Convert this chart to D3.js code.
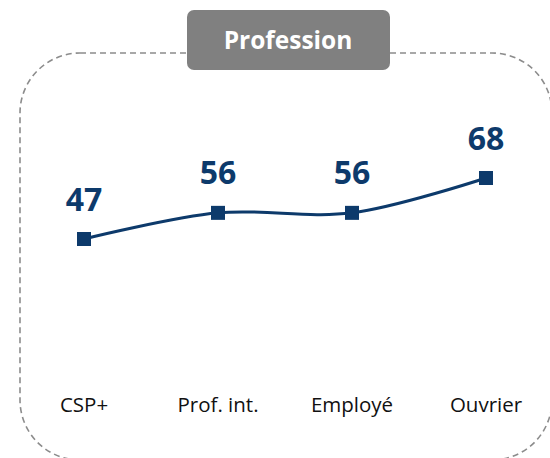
<!DOCTYPE html>
<html><head><meta charset="utf-8">
<script src="https://cdn.jsdelivr.net/npm/d3@7"></script>
<style>html,body{margin:0;padding:0;background:#fff;}</style>
</head><body>
<script>
const categories = ["CSP+", "Prof. int.", "Employé", "Ouvrier"];
const values = [47, 56, 56, 68];
const title = "Profession";

const W = 550, H = 458;
const navy = "#0d3a6b";
const svg = d3.select("body").append("svg").attr("width", W).attr("height", H);

// dashed rounded frame
svg.append("rect").attr("x", 20).attr("y", 53).attr("width", 532).attr("height", 407)
  .attr("rx", 60).attr("ry", 60).attr("fill", "none")
  .attr("stroke", "#8c8c8c").attr("stroke-width", 1.6).attr("stroke-dasharray", "6,4");

// title box
svg.append("rect").attr("x", 187).attr("y", 10).attr("width", 203).attr("height", 60)
  .attr("rx", 7).attr("fill", "#808080");
svg.append("text").attr("x", 288).attr("y", 48.5).attr("text-anchor", "middle")
  .attr("font-family", "Open Sans, sans-serif").attr("font-weight", "bold")
  .attr("font-size", 24.5).attr("fill", "#fff").text(title);

const x = d3.scalePoint().domain(categories).range([84, 486]);
const y = d3.scaleLinear().domain([47, 68]).range([239, 178]);

const data = categories.map((c, i) => ({c, v: values[i]}));

svg.append("path").datum(data)
  .attr("d", d3.line().x(d => x(d.c)).y(d => y(d.v)).curve(d3.curveCatmullRom.alpha(0.5)))
  .attr("fill", "none").attr("stroke", navy).attr("stroke-width", 3);

svg.selectAll("rect.m").data(data).join("rect").attr("class", "m")
  .attr("x", d => x(d.c) - 7).attr("y", d => y(d.v) - 7)
  .attr("width", 14).attr("height", 14).attr("fill", navy);

svg.selectAll("text.v").data(data).join("text").attr("class", "v")
  .attr("x", d => x(d.c)).attr("y", d => y(d.v) - 28.5)
  .attr("text-anchor", "middle").attr("font-family", "Open Sans, sans-serif")
  .attr("font-weight", "bold").attr("font-size", 32).attr("fill", navy)
  .text(d => d.v);

const labelShift = [0, 0, 0, 0];
svg.selectAll("text.c").data(categories).join("text").attr("class", "c")
  .attr("x", (d, i) => x(d) + labelShift[i])
  .attr("y", 412).attr("text-anchor", "middle")
  .attr("font-family", "Open Sans, sans-serif").attr("font-size", 20.5).attr("fill", "#111")
  .text(d => d);
</script>
</body></html>
